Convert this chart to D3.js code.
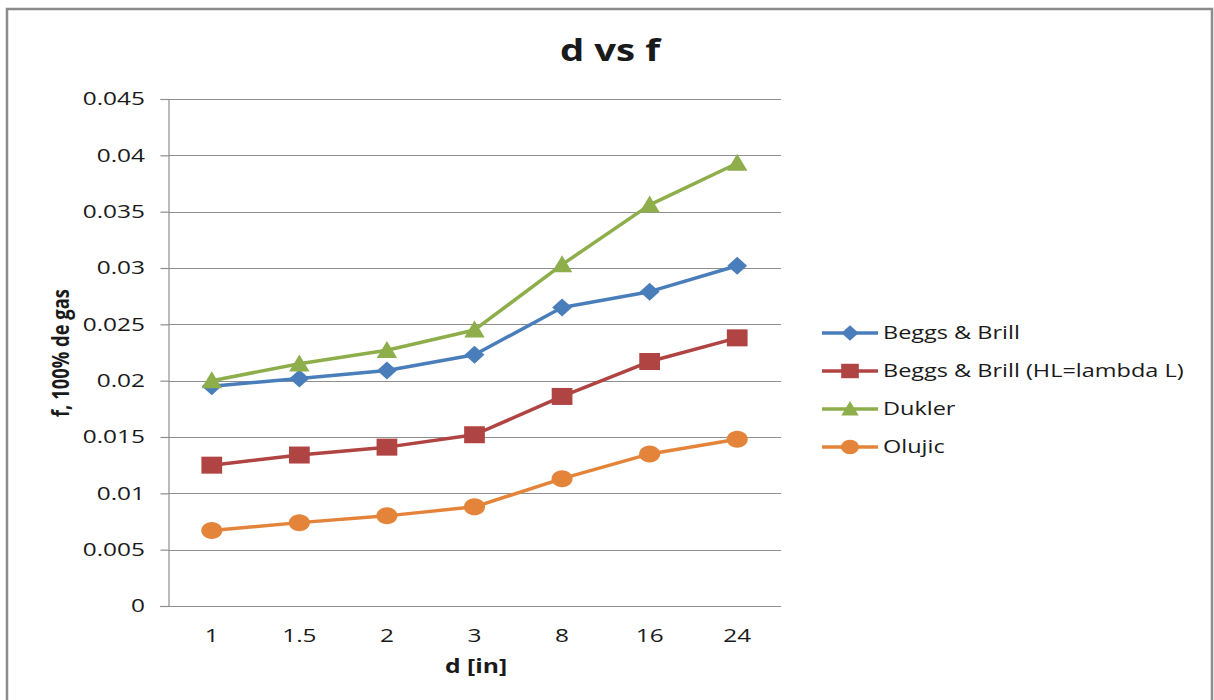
<!DOCTYPE html>
<html><head><meta charset="utf-8">
<script src="https://cdn.jsdelivr.net/npm/d3@7"></script>
<style>
html,body{margin:0;padding:0;background:#fff;}
svg text{font-family:"Open Sans","DejaVu Sans",sans-serif;fill:#1a1a1a;}
</style></head>
<body>
<svg id="chart" width="1214" height="700"></svg>
<script>
const categories = ["1","1.5","2","3","8","16","24"];
const seriesNames = ["Beggs & Brill","Beggs & Brill (HL=lambda L)","Dukler","Olujic"];
const beggsBrill = [0.0195,0.0202,0.0209,0.0223,0.0265,0.0279,0.0302];
const beggsBrillHL = [0.0125,0.0134,0.0141,0.0152,0.0186,0.0217,0.0238];
const dukler = [0.0200,0.0215,0.0227,0.0245,0.0303,0.0356,0.0393];
const olujic = [0.0067,0.0074,0.0080,0.0088,0.0113,0.0135,0.0148];
const yTicks = [0,0.005,0.01,0.015,0.02,0.025,0.03,0.035,0.04,0.045];
const yTickLabels = ["0","0.005","0.01","0.015","0.02","0.025","0.03","0.035","0.04","0.045"];
const colors = ["#4A7EBB","#B04442","#8DAE4B","#E3843A"];

// marker shapes (width/height aspect), size = height in px
const mkDiamond = {draw(c,s){const h=s/2+1,w=h*1.1;c.moveTo(0,-h);c.lineTo(w,0);c.lineTo(0,h);c.lineTo(-w,0);c.closePath();}};
const mkSquare = {draw(c,s){const h=s/2,w=h*1.22;c.rect(-w,-h,2*w,2*h);}};
const mkTriangle = {draw(c,s){const h=s,w=s*0.6;c.moveTo(0,-h*0.55);c.lineTo(w,h*0.45);c.lineTo(-w,h*0.45);c.closePath();}};
const mkEllipse = {draw(c,s){const ry=s/2,rx=ry*1.24,k=0.5523;
  c.moveTo(rx,0);
  c.bezierCurveTo(rx,ry*k,rx*k,ry,0,ry);
  c.bezierCurveTo(-rx*k,ry,-rx,ry*k,-rx,0);
  c.bezierCurveTo(-rx,-ry*k,-rx*k,-ry,0,-ry);
  c.bezierCurveTo(rx*k,-ry,rx,-ry*k,rx,0);
  c.closePath();}};
const symbols = [mkDiamond, mkSquare, mkTriangle, mkEllipse];
const markerH = [16,17,17,17];
const allSeries = [beggsBrill, beggsBrillHL, dukler, olujic];

const svg = d3.select("#chart");
const SX = 1.32;
function stext(parent, x, y, str, opts){
  const g = parent.append("g").attr("transform",`translate(${x},${y}) scale(${opts.sx||SX},1)`);
  const t = g.append("text").text(str)
    .attr("text-anchor", opts.anchor||"start")
    .attr("font-size", opts.size||18.5)
    .attr("font-weight", opts.weight||"normal");
  if (opts.dy) t.attr("dy", opts.dy);
  return t;
}

// outer border
svg.append("path").attr("d","M7,701 L7,9 L1212,9 L1212,701")
  .attr("fill","none").attr("stroke","#8c8c8c").attr("stroke-width",2.5);

const plot = {left:168, right:781, top:99, bottom:606};
const x = d3.scaleBand().domain(categories).range([plot.left, plot.right]).padding(0);
const y = d3.scaleLinear().domain([0,0.045]).range([plot.bottom, plot.top]);
const cx = c => x(c) + x.bandwidth()/2;

// gridlines
svg.append("g").selectAll("line").data(yTicks.slice(1)).join("line")
  .attr("x1",plot.left).attr("x2",plot.right)
  .attr("y1",d=>Math.round(y(d))+0.5).attr("y2",d=>Math.round(y(d))+0.5)
  .attr("stroke","#8e8e8e").attr("stroke-width",1.2);

// y axis
const yAxis = d3.axisLeft(y).tickValues(yTicks).tickSize(8).tickFormat((d,i)=>yTickLabels[i]);
const yg = svg.append("g").attr("transform",`translate(${plot.left+0.5},0)`).call(yAxis);
yg.selectAll("path,line").attr("stroke","#8e8e8e").attr("stroke-width",1.2);
yg.selectAll("text").remove();
yTicks.forEach((v,i)=>{
  stext(svg, 145, y(v), yTickLabels[i], {anchor:"end", dy:"0.35em"});
});

// x axis
const xAxis = d3.axisBottom(x).tickSize(0).tickSizeOuter(0);
const xg = svg.append("g").attr("transform",`translate(0,${Math.round(plot.bottom)+0.5})`).call(xAxis);
xg.select(".domain").attr("d",`M${plot.left-8},0H${plot.right}`).attr("stroke","#8e8e8e").attr("stroke-width",1.2);
xg.selectAll("text").remove();
categories.forEach(c=>{
  stext(svg, cx(c), 642, c, {anchor:"middle"});
});

// titles
stext(svg, 610, 61, "d vs f", {anchor:"middle", size:30, weight:"bold", sx:1.28});
stext(svg, 476, 673, "d [in]", {anchor:"middle", size:19, weight:"bold", sx:1.3});
svg.append("text").attr("transform","translate(69,353) rotate(-90)")
  .attr("text-anchor","middle").attr("font-size",24).attr("font-weight","bold")
  .attr("textLength",128).attr("lengthAdjust","spacingAndGlyphs")
  .text("f, 100% de gas");

// lines and markers
const line = d3.line().x((d,i)=>cx(categories[i])).y(d=>y(d));
allSeries.forEach((vals,si)=>{
  const g = svg.append("g");
  g.append("path").datum(vals).attr("d",line).attr("fill","none")
    .attr("stroke",colors[si]).attr("stroke-width",3.5).attr("stroke-linejoin","round");
  g.selectAll("path.m").data(vals).join("path").attr("class","m")
    .attr("transform",(d,i)=>`translate(${cx(categories[i])},${y(d)})`)
    .attr("d",d3.symbol().type(symbols[si]).size(markerH[si]))
    .attr("fill",colors[si]);
});

// legend
const legend = svg.append("g");
seriesNames.forEach((n,i)=>{
  const ly = 333 + i*38;
  legend.append("line").attr("x1",822).attr("x2",878).attr("y1",ly).attr("y2",ly)
    .attr("stroke",colors[i]).attr("stroke-width",3.5);
  legend.append("path").attr("transform",`translate(850,${ly})`)
    .attr("d",d3.symbol().type(symbols[i]).size(markerH[i]*0.85)).attr("fill",colors[i]);
  stext(legend, 883, ly, n, {dy:"0.35em", sx:1.27});
});
</script>
</body></html>
